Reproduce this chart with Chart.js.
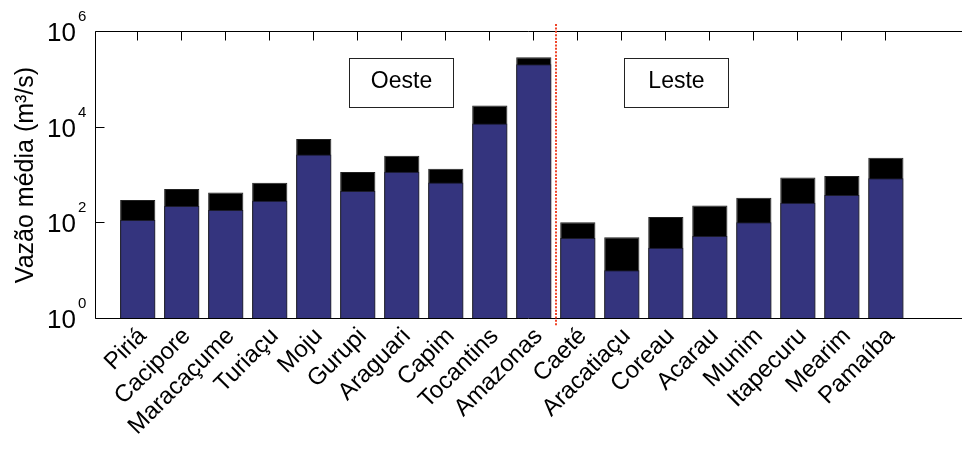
<!DOCTYPE html>
<html>
<head>
<meta charset="utf-8">
<script src="https://cdn.jsdelivr.net/npm/chart.js@4"></script>
<style>
  html, body { margin: 0; padding: 0; background: #fff; overflow: hidden; }
  canvas { display: block; }
</style>
</head>
<body>
<canvas id="c" width="962" height="450"></canvas>
<script>
// River basins, west group first, then east group
const rivers = ['Piriá', 'Cacipore', 'Maracaçume', 'Turiaçu', 'Moju', 'Gurupi', 'Araguari', 'Capim',
  'Tocantins', 'Amazonas', 'Caeté', 'Aracatiaçu', 'Coreau', 'Acarau', 'Munim', 'Itapecuru', 'Mearim', 'Pamaíba'];

// Mean discharge (m³/s), blue bars
const meanFlow = [114, 224, 184, 289, 2700, 460, 1170, 700, 12000, 209000,
  48, 10.1, 30, 53, 103, 262, 380, 860];

// Upper value (m³/s), black bars behind
const upperFlow = [298, 507, 432, 687, 5700, 1150, 2520, 1350, 28600, 293000,
  102, 49.5, 132, 231, 333, 890, 948, 2290];

// Decades labelled on the log axis
const yTickValues = [1, 100, 10000, 1000000];

// West / east split between Amazonas and Caeté
const groupDivider = 10.5;
const groupLabels = ['Oeste', 'Leste'];

const FONT = '"Liberation Sans", Arial, sans-serif';

function crisp(v) { return Math.round(v - 0.5) + 0.5; }

const decorations = {
  id: 'decorations',
  afterDraw(chart) {
    const { ctx, chartArea: a, scales: { x, y } } = chart;
    ctx.save();

    // axes frame (left, top, bottom)
    ctx.strokeStyle = '#000';
    ctx.lineWidth = 1;
    ctx.setLineDash([]);
    const L = crisp(a.left), T = crisp(a.top), B = crisp(a.bottom);
    ctx.beginPath();
    ctx.moveTo(a.right, T); ctx.lineTo(L, T); ctx.lineTo(L, B); ctx.lineTo(a.right, B);
    ctx.stroke();

    // inward tick marks along the top
    ctx.beginPath();
    rivers.forEach((_, i) => {
      const px = crisp(x.getPixelForValue(i + 1));
      ctx.moveTo(px, T); ctx.lineTo(px, T + 9);
    });
    // inward tick marks on the y axis
    yTickValues.forEach(v => {
      const py = crisp(y.getPixelForValue(v));
      ctx.moveTo(L, py); ctx.lineTo(L + 9, py);
    });
    ctx.stroke();

    // y tick labels as powers of ten
    ctx.fillStyle = '#000';
    ctx.textAlign = 'left';
    ctx.textBaseline = 'alphabetic';
    yTickValues.forEach(v => {
      const py = y.getPixelForValue(v);
      const exp = String(Math.round(Math.log10(v)));
      ctx.font = '26px ' + FONT;
      ctx.fillText('10', 47, py + 9.5);
      ctx.font = '15px ' + FONT;
      ctx.fillText(exp, 78, py - 10.5);
    });

    // y axis title
    ctx.save();
    ctx.font = '25px ' + FONT;
    ctx.textAlign = 'center';
    ctx.translate(33, (a.top + a.bottom) / 2);
    ctx.rotate(-Math.PI / 2);
    ctx.fillText('Vazão média (m³/s)', 0, 0);
    ctx.restore();

    // dotted divider between the two groups
    const dx = Math.round(x.getPixelForValue(groupDivider));
    ctx.strokeStyle = 'rgba(238,58,28,0.95)';
    ctx.lineWidth = 2;
    ctx.setLineDash([2, 1.4]);
    ctx.beginPath();
    ctx.moveTo(dx, y.getPixelForValue(Math.pow(10, 6.16)));
    ctx.lineTo(dx, y.getPixelForValue(Math.pow(10, -0.17)));
    ctx.stroke();
    ctx.setLineDash([]);

    // group label boxes
    const boxes = [
      { text: groupLabels[0], x0: 5.81, x1: 8.17 },
      { text: groupLabels[1], x0: 12.06, x1: 14.43 }
    ];
    const by0 = y.getPixelForValue(Math.pow(10, 5.44));
    const by1 = y.getPixelForValue(Math.pow(10, 4.405));
    boxes.forEach(b => {
      const bx0 = crisp(x.getPixelForValue(b.x0));
      const bx1 = crisp(x.getPixelForValue(b.x1));
      const t = crisp(by0), bt = crisp(by1);
      ctx.fillStyle = '#fff';
      ctx.fillRect(bx0, t, bx1 - bx0, bt - t);
      ctx.strokeStyle = '#222';
      ctx.lineWidth = 1;
      ctx.strokeRect(bx0, t, bx1 - bx0, bt - t);
      ctx.fillStyle = '#000';
      ctx.font = '23px ' + FONT;
      ctx.textAlign = 'center';
      ctx.textBaseline = 'alphabetic';
      ctx.fillText(b.text, (bx0 + bx1) / 2, t + 29);
    });

    ctx.restore();
  }
};

new Chart(document.getElementById('c'), {
  type: 'bar',
  data: {
    datasets: [
      {
        label: 'média',
        data: meanFlow.map((v, i) => ({ x: i + 1, y: v })),
        backgroundColor: '#34347e',
        borderColor: '#1a1a2a',
        borderWidth: 1,
        grouped: false,
        barPercentage: 0.8,
        categoryPercentage: 1.0
      },
      {
        label: 'máxima',
        data: upperFlow.map((v, i) => ({ x: i + 1, y: v })),
        backgroundColor: '#000',
        borderColor: '#222',
        borderWidth: 1,
        grouped: false,
        barPercentage: 0.8,
        categoryPercentage: 1.0
      }
    ]
  },
  options: {
    responsive: false,
    animation: false,
    devicePixelRatio: 1,
    layout: { padding: { top: 31.7, right: 0, left: 0, bottom: 0 } },
    plugins: { legend: { display: false }, tooltip: { enabled: false } },
    scales: {
      x: {
        type: 'linear',
        offset: false,
        min: 0.045,
        max: 19.73,
        grid: { display: false, offset: false },
        border: { display: false },
        afterBuildTicks(scale) {
          scale.ticks = rivers.map((_, i) => ({ value: i + 1 }));
        },
        afterFit(scale) { scale.height = 131.7; },
        ticks: {
          autoSkip: false,
          minRotation: 45,
          maxRotation: 45,
          padding: -4,
          labelOffset: 5,
          color: '#000',
          font: { family: FONT, size: 24 },
          callback: v => rivers[Math.round(v) - 1]
        }
      },
      y: {
        type: 'logarithmic',
        min: 1,
        max: 1000000,
        grid: { display: false },
        border: { display: false },
        ticks: { display: false },
        afterFit(scale) { scale.width = 95.7; }
      }
    }
  },
  plugins: [decorations]
});
</script>
</body>
</html>
